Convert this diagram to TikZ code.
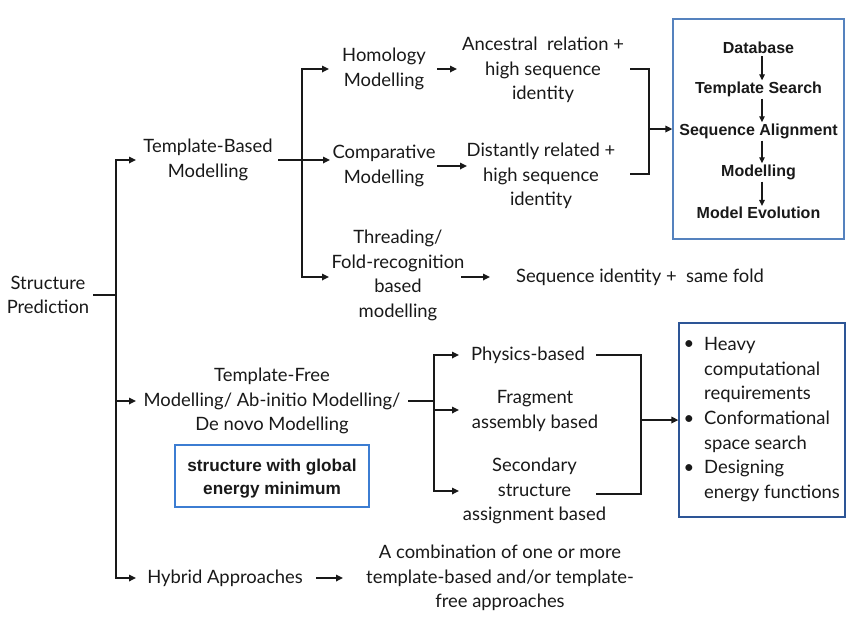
\documentclass[tikz,border=0pt]{standalone}
\usepackage{fontspec}
\setmainfont{Lato}
\newfontfamily\boxfont{Liberation Sans}
\usetikzlibrary{arrows.meta}
\definecolor{boxA}{RGB}{85,130,190}
\definecolor{boxB}{RGB}{45,85,150}
\definecolor{boxC}{RGB}{60,125,210}
\definecolor{ink}{RGB}{25,25,25}
\begin{document}
\begin{tikzpicture}[x=1pt,y=-1pt,
  txt/.style={align=center,font=\fontsize{18.4}{24.5}\selectfont,inner sep=0pt,text=ink},
  btxt/.style={align=center,font=\boxfont\bfseries\fontsize{16}{23}\selectfont,inner sep=0pt,text=ink},
  gtxt/.style={align=center,font=\boxfont\bfseries\fontsize{17.2}{23}\selectfont,inner sep=0pt,text=ink},
  ln/.style={line width=1.6pt,draw=ink},
  arr/.style={ln,-{Triangle[length=7pt,width=6.5pt]}},
  sarr/.style={line width=1.3pt,draw=ink,-{Triangle[length=6pt,width=5.5pt]}}
]
\useasboundingbox[fill=white] (0,0) rectangle (850,638);

% ---- text nodes
\node[txt] (SP) at (48,295) {Structure\\Prediction};
\node[txt] (TB) at (208,160) {Template-Based\\Modelling};
\node[txt] (HM) at (384,69) {Homology\\Modelling};
\node[txt] (AR) at (543,70) {Ancestral\ \ relation +\\high sequence\\identity};
\node[txt] (CM) at (384,166) {Comparative\\Modelling};
\node[txt] (DR) at (541,176) {Distantly related +\\high sequence\\identity};
\node[txt] (TF) at (398,275.5) {Threading/\\Fold-recognition\\based\\modelling};
\node[txt] (SI) at (640,277) {Sequence identity +\ \ same fold};
\node[txt] (TFM) at (272,401) {Template-Free\\Modelling/ Ab-initio Modelling/\\De novo Modelling};
\node[txt] (PB) at (528,355) {Physics-based};
\node[txt] (FA) at (535,411) {Fragment\\assembly based};
\node[txt] (SS) at (534.5,491) {Secondary\\structure\\assignment based};
\node[txt] (HA) at (225,578) {Hybrid Approaches};
\node[txt] (CO) at (500,578) {A combination of one or more\\template-based and/or template-\\free approaches};

% ---- blue boxes
\node[draw=boxA,line width=1.3pt,minimum width=171pt,minimum height=220pt,inner sep=0pt] (B1) at (758.5,129) {};
\node[btxt] (D1) at (758.5,48) {Database};
\node[btxt] (D2) at (758.5,89) {Template Search};
\node[btxt] (D3) at (758.5,131) {Sequence Alignment};
\node[btxt] (D4) at (758.5,172) {Modelling};
\node[btxt] (D5) at (758.5,213) {Model Evolution};

\node[draw=boxC,line width=1.3pt,minimum width=194pt,minimum height=62pt,inner sep=0pt] (GB) at (272,476) {};
\node[gtxt] (GT) at (272,479) {structure with global\\energy minimum};

\node[draw=boxB,line width=1.3pt,minimum width=166pt,minimum height=194pt,inner sep=0pt] (B2) at (762,420) {};
\node[txt,anchor=west,align=left] (L1) at (704,370) {Heavy\\computational\\requirements};
\node[txt,anchor=west,align=left] (L2) at (704,432) {Conformational\\space search};
\node[txt,anchor=west,align=left] (L3) at (704,481) {Designing\\energy functions};
\node[txt] (P1) at (689,345) {\textbullet};
\node[txt] (P2) at (689,420) {\textbullet};
\node[txt] (P3) at (689,469) {\textbullet};

% ---- junction coordinates
\coordinate (J0) at (116,295);
\coordinate (J1) at (302,160);
\coordinate (J2) at (434,401);
\coordinate (K1) at (649,129);
\coordinate (K2) at (641,420);

% ---- connectors
\draw[ln] (93,295) coordinate (s0) -- (J0);
\draw[arr] (J0) |- (136,160) coordinate (e0);
\draw[arr] (J0) |- (136,401) coordinate (e1);
\draw[arr] (J0) |- (136,578) coordinate (e2);

\draw[ln] (278,160) coordinate (s1) -- (J1);
\draw[arr] (J1) |- (329,69) coordinate (e3);
\draw[arr] (J1) -- (330,160) coordinate (e4);
\draw[arr] (J1) |- (329,277) coordinate (e5);

\draw[arr] (437,69) coordinate (f1) -- (457,69) coordinate (f2);
\draw[arr] (437,166) coordinate (f3) -- (467,166) coordinate (f4);
\draw[arr] (461,277) coordinate (f5) -- (490,277) coordinate (f6);
\draw[arr] (316,578) coordinate (f7) -- (343,578) coordinate (f8);

\draw[ln] (630,69) -| (K1) |- (630,174);
\draw[arr] (K1) -- (B1.west |- K1);

\draw[ln] (408,401) coordinate (s2) -- (J2);
\draw[arr] (J2) |- (459,355) coordinate (g1);
\draw[arr] (J2 |- 0,410) -- (459,410) coordinate (g2);
\draw[arr] (J2) |- (459,491) coordinate (g3);

\draw[ln] (596,355) -| (K2) |- (596,494);
\draw[arr] (K2) -- (B2.west |- K2);

\draw[sarr] ([yshift=-2pt]D1.south -| 762,0) -- ([yshift=1pt]D2.north -| 762,0);
\draw[sarr] ([yshift=-2pt]D2.south -| 762,0) -- ([yshift=1pt]D3.north -| 762,0);
\draw[sarr] ([yshift=-2pt]D3.south -| 762,0) -- ([yshift=1pt]D4.north -| 762,0);
\draw[sarr] ([yshift=-2pt]D4.south -| 762,0) -- ([yshift=1pt]D5.north -| 762,0);
\end{tikzpicture}
\end{document}
